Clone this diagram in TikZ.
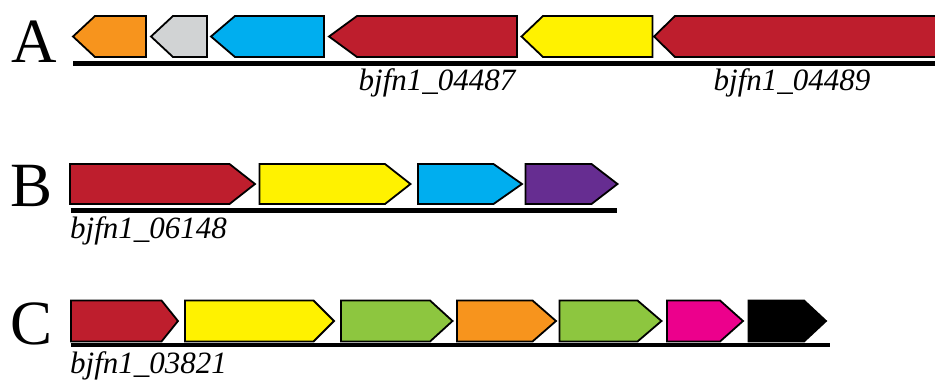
\documentclass[tikz,border=0pt]{standalone}
\usepackage{fontspec}
\setmainfont{Liberation Serif}
\definecolor{gorange}{HTML}{F7941D}
\definecolor{ggray}{HTML}{D1D3D4}
\definecolor{gblue}{HTML}{00AEEF}
\definecolor{gred}{HTML}{BE1E2D}
\definecolor{gyellow}{HTML}{FFF200}
\definecolor{gpurple}{HTML}{662D91}
\definecolor{ggreen}{HTML}{8DC63F}
\definecolor{gmagenta}{HTML}{EC008C}
% forward gene: colour, left, shoulder, tip, top, bottom
\newcommand{\fwdgene}[6]{%
  \path[genebox,fill=#1] (#2,#5) -- (#3,#5) -- (#4,{(#5+#6)/2}) -- (#3,#6) -- (#2,#6) -- cycle;}
% reverse gene: colour, tip, shoulder, right, top, bottom
\newcommand{\revgene}[6]{%
  \path[genebox,fill=#1] (#4,#5) -- (#3,#5) -- (#2,{(#5+#6)/2}) -- (#3,#6) -- (#4,#6) -- cycle;}
\begin{document}
\begin{tikzpicture}[x=1pt,y=-1pt,
  genebox/.style={draw=black,line width=1.8pt,line join=miter},
  axisline/.style={draw=black,line width=4.6pt},
  rowletter/.style={font=\fontsize{63}{63}\selectfont,anchor=base,inner sep=0pt},
  genelabel/.style={font=\fontsize{31}{31}\selectfont\itshape,anchor=base,inner sep=0pt}]
\useasboundingbox (0,0) rectangle (935,381);
\clip (0,0) rectangle (935,381);
% Row A
\node[rowletter] (la) at (34.5,62) {A};
\coordinate (a0) at (73,63.5);
\coordinate (a1) at (945,63.5);
\draw[axisline] (a0) -- (a1);
\revgene{gorange}{73}{95}{146}{16}{57}
\revgene{ggray}{151}{173}{207}{16}{57}
\revgene{gblue}{211}{235}{324}{16}{57}
\revgene{gred}{329}{357}{517}{16}{57}
\revgene{gyellow}{521.5}{543}{652.5}{16}{57}
\revgene{gred}{654}{675}{950}{16}{57}
\node[genelabel] (ta1) at (437,90) {bjfn1\_04487};
\node[genelabel] (ta2) at (792,90) {bjfn1\_04489};
% Row B
\node[rowletter] (lb) at (32,206) {B};
\coordinate (b0) at (70.5,210.5);
\coordinate (b1) at (617,210.5);
\draw[axisline] (b0) -- (b1);
\fwdgene{gred}{70}{229.5}{255}{164}{204}
\fwdgene{gyellow}{259.5}{385}{410.5}{164}{204}
\fwdgene{gblue}{418}{493.5}{522}{164}{204}
\fwdgene{gpurple}{525.5}{591.5}{617.5}{164}{204}
\node[genelabel,anchor=base west] (tb) at (70,238) {bjfn1\_06148};
% Row C
\node[rowletter] (lc) at (31.5,344.5) {C};
\coordinate (c0) at (70.5,345);
\coordinate (c1) at (830,345);
\draw[axisline] (c0) -- (c1);
\fwdgene{gred}{71}{161.5}{178}{300.5}{341.5}
\fwdgene{gyellow}{185}{313.5}{334}{300.5}{341.5}
\fwdgene{ggreen}{341}{430}{452.5}{300.5}{341.5}
\fwdgene{gorange}{457}{532.5}{556}{300.5}{341.5}
\fwdgene{ggreen}{559.5}{637.5}{661.5}{300.5}{341.5}
\fwdgene{gmagenta}{667}{720}{743}{300.5}{341.5}
\fwdgene{black}{748.5}{804}{826}{300.5}{341.5}
\node[genelabel,anchor=base west] (tc) at (70,373.5) {bjfn1\_03821};
\end{tikzpicture}
\end{document}
